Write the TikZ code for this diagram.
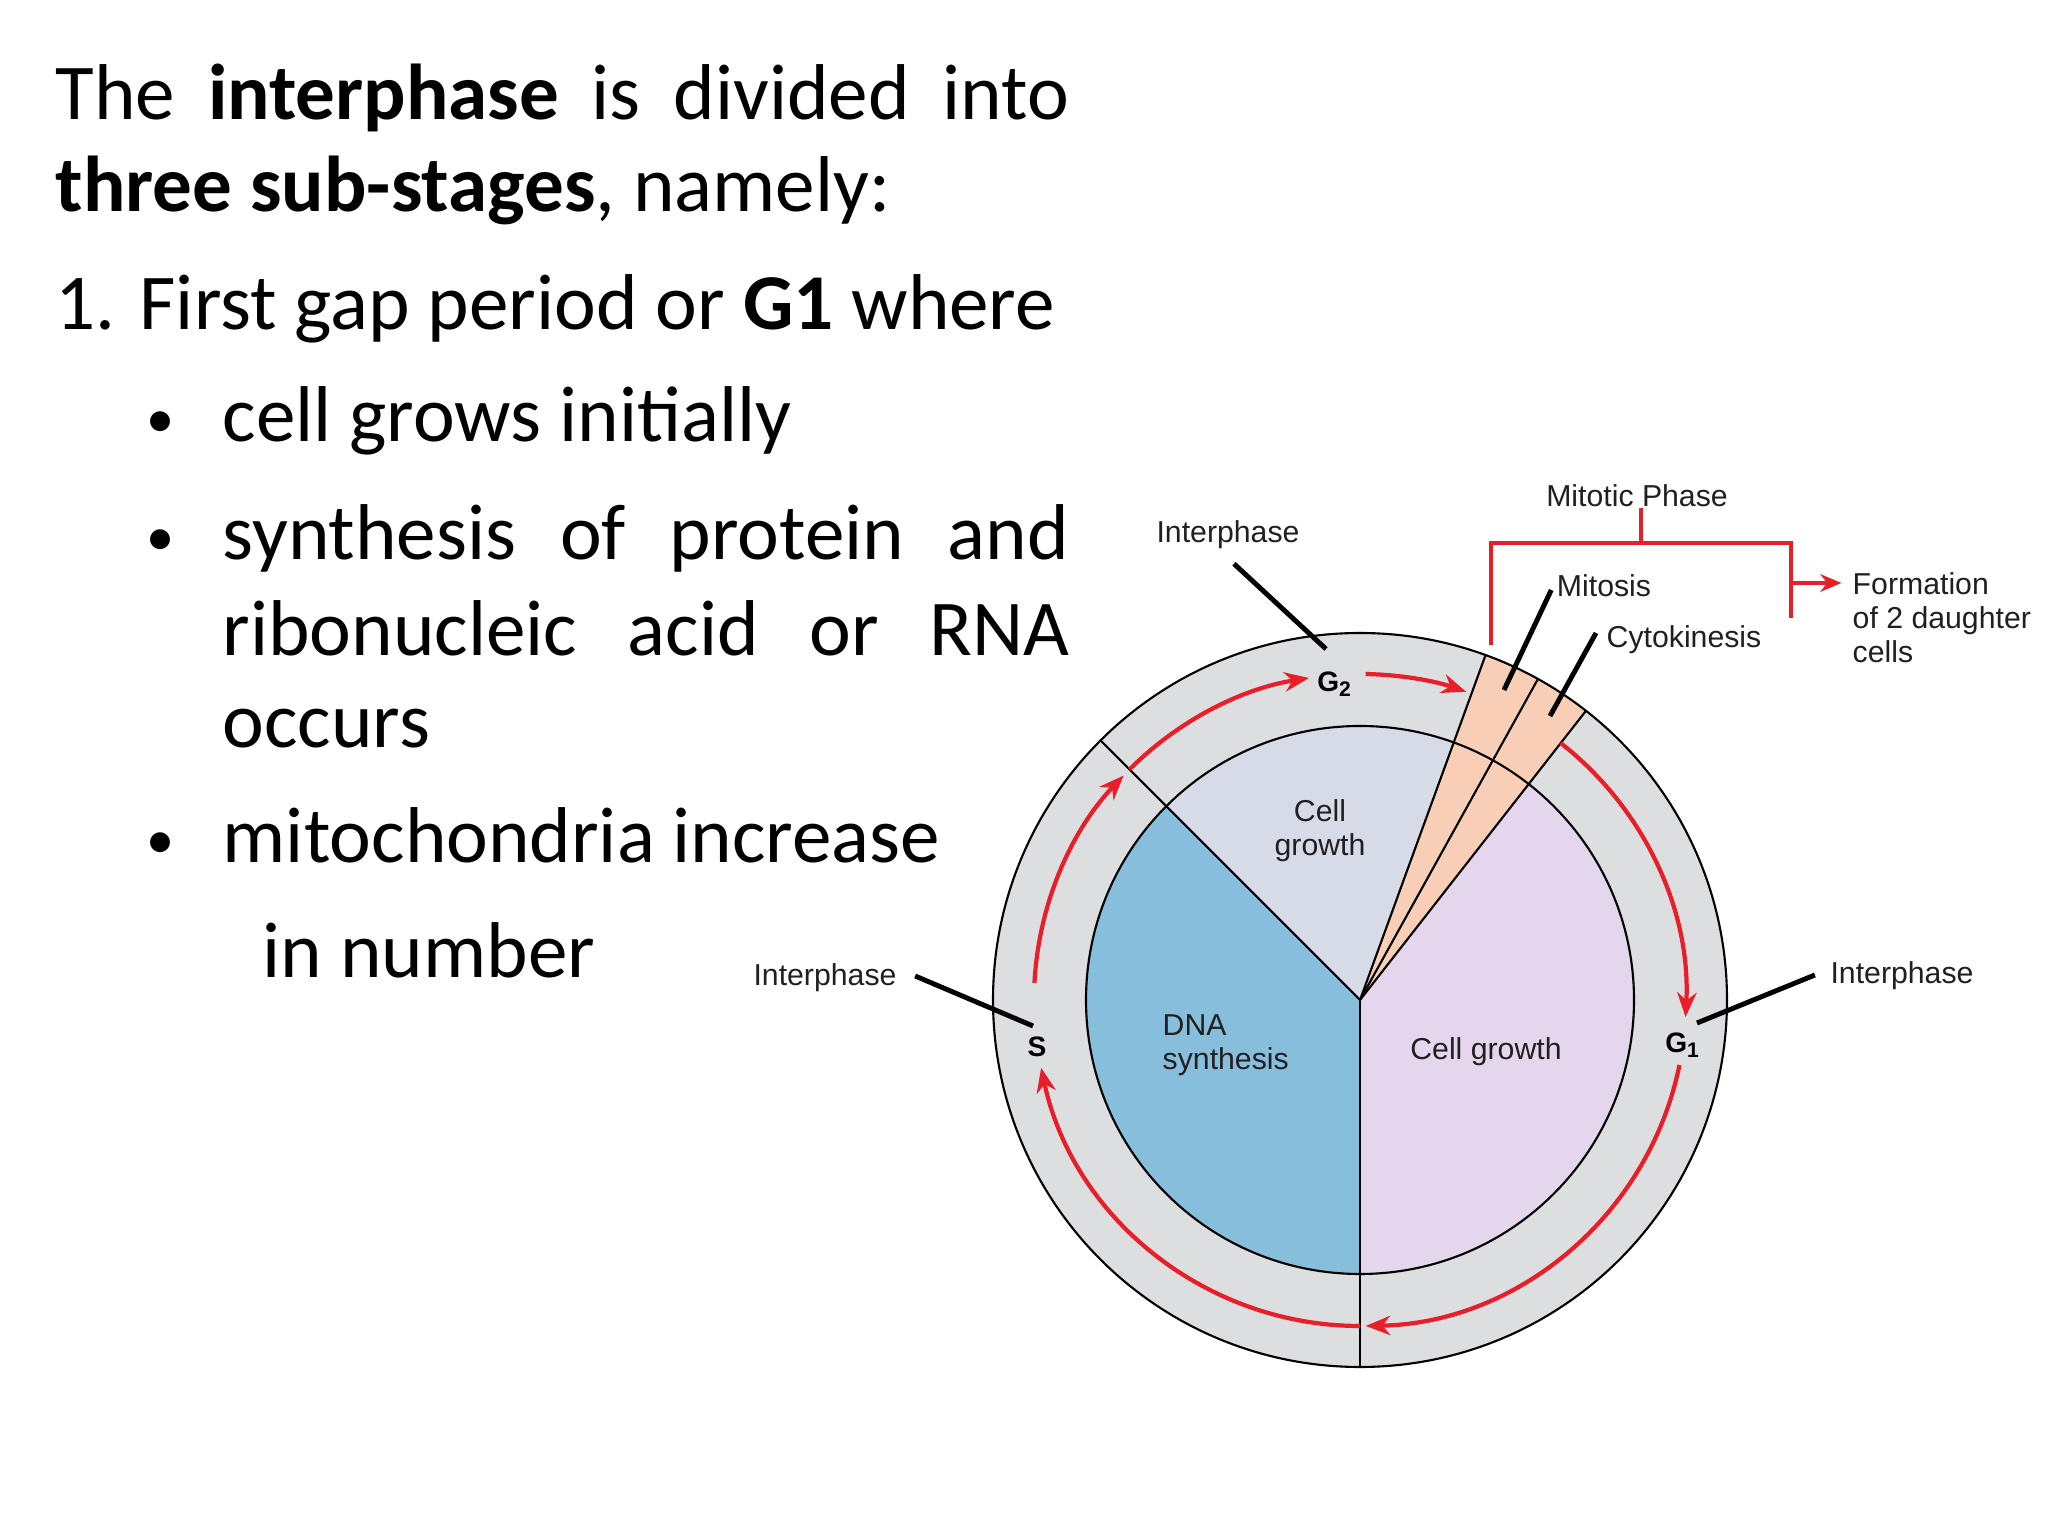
\documentclass[tikz,border=0pt]{standalone}
\usepackage{fontspec}
\setmainfont{Carlito}
\newfontfamily\diagfont{Liberation Sans}
\usetikzlibrary{arrows.meta}
\definecolor{ringgrey}{RGB}{220,222,224}
\definecolor{topgrey}{RGB}{214,219,231}
\definecolor{dnablue}{RGB}{134,190,220}
\definecolor{growlilac}{RGB}{228,215,237}
\definecolor{mitopeach}{RGB}{249,206,182}
\definecolor{cyclered}{RGB}{232,30,40}
\definecolor{labelink}{RGB}{35,31,32}
\newcommand{\slidedot}{\raisebox{1.2pt}{\fontsize{16}{16}\selectfont\textbullet}}
\begin{document}
\begin{tikzpicture}[x=0.01cm, y=0.01cm,
  slide/.style={anchor=base west, inner sep=0pt, font=\fontsize{22.5}{26.5}\selectfont},
  tag/.style={inner sep=0pt, text=labelink, font=\diagfont\fontsize{8.6}{9.7}\selectfont},
  phase/.style={inner sep=0pt, text=black, font=\diagfont\bfseries\fontsize{8}{9}\selectfont},
  outline/.style={black, line width=0.6pt},
  cyclearc/.style={cyclered, line width=1.2pt, -{Stealth[length=7pt, width=5.5pt]}},
  leader/.style={black, line width=1.4pt},
  bracket/.style={cyclered, line width=1.1pt}]
\fill[white] (0,0) rectangle (2048,1536);
\node[slide] (line1) at (55,1416) {\makebox[10.13cm][s]{The \textbf{interphase} is divided into}};
\node[slide] (line2) at (55,1324) {\textbf{three sub-stages}, namely:};
\node[slide] (line3) at (55,1206) {1. First gap period or \textbf{G1} where};
\node[slide] (dot1) at (146,1094) {\slidedot};
\node[slide] (item1) at (222,1094) {cell grows initially};
\node[slide] (dot2) at (146,976) {\slidedot};
\node[slide] (item2a) at (222,976) {\makebox[8.46cm][s]{synthesis of protein and}};
\node[slide] (item2b) at (222,880) {\makebox[8.46cm][s]{ribonucleic acid or RNA}};
\node[slide] (item2c) at (222,788) {occurs};
\node[slide] (dot3) at (146,673) {\slidedot};
\node[slide] (item3a) at (222,673) {mitochondria increase};
\node[slide] (item3b) at (262,558) {in number};
\begin{scope}[shift={(1360,536)}]
\fill[ringgrey] (0,0) circle[radius=367];
\fill[mitopeach] (0,0) -- (52:367) arc[start angle=52, end angle=70, radius=367] -- cycle;
\fill[topgrey] (0,0) -- (70:274) arc[start angle=70, end angle=135, radius=274] -- cycle;
\fill[dnablue] (0,0) -- (135:274) arc[start angle=135, end angle=270, radius=274] -- cycle;
\fill[growlilac] (0,0) -- (-90:274) arc[start angle=-90, end angle=52, radius=274] -- cycle;
\draw[outline] (0,0) circle[radius=367] (0,0) circle[radius=274];
\foreach \a in {52,61,70,135,270}
  \draw[outline] (0,0) -- (\a:367);
\foreach \s/\e in {-11.5/-89, -90/-168, 177/136.5, 135/99, 89/71, 52/-3}
  \draw[cyclearc] (\s:326) arc[start angle=\s, end angle=\e, radius=326];
\end{scope}
\node[phase] (gtwo) at (1335,852) {G\textsubscript{2}};
\node[phase] (sphase) at (1037,489) {S};
\node[phase] (gone) at (1683,491) {G\textsubscript{1}};
\node[tag, align=center] (growtop) at (1320,705) {Cell\\growth};
\node[tag, align=left, anchor=west] (dna) at (1162,491) {DNA\\synthesis};
\node[tag] (growright) at (1486,484) {Cell growth};
\node[tag] (ipTop) at (1228,1001) {Interphase};
\node[tag] (ipLeft) at (825,558) {Interphase};
\node[tag] (ipRight) at (1902,560) {Interphase};
\node[tag] (mitotic) at (1637,1040) {Mitotic Phase};
\node[tag] (mitosis) at (1604,950) {Mitosis};
\node[tag] (cyto) at (1684,896) {Cytokinesis};
\node[tag, align=left, anchor=north west] (formation) at (1852,964) {Formation\\of 2 daughter\\cells};
\coordinate (ipTopEnd) at (1326,887);
\coordinate (ipLeftEnd) at (1033,510);
\coordinate (ipRightEnd) at (1697,513);
\coordinate (mitosisEnd) at (1504,846);
\coordinate (cytoEnd) at (1550,820);
\coordinate (brLeft) at (1491,891);
\coordinate (brRight) at (1791,918);
\coordinate (brTop) at (1641,993);
\coordinate (brMid) at (1791,953);
\draw[leader] ([shift={(6,-14)}]ipTop.south) -- (ipTopEnd);
\draw[leader] ([shift={(18,2)}]ipLeft.east) -- (ipLeftEnd);
\draw[leader] ([shift={(-15,1)}]ipRight.west) -- (ipRightEnd);
\draw[leader] ([shift={(-5,-4)}]mitosis.west) -- (mitosisEnd);
\draw[leader] ([shift={(-10,7)}]cyto.west) -- (cytoEnd);
\draw[bracket] (brLeft) |- (brTop) -| (brRight);
\draw[bracket] (mitotic.south -| brTop) -- (brTop);
\draw[bracket, -{Stealth[length=6pt, width=5pt]}, shorten >=3pt] (brMid) -- (brMid -| formation.west);
\end{tikzpicture}
\end{document}
